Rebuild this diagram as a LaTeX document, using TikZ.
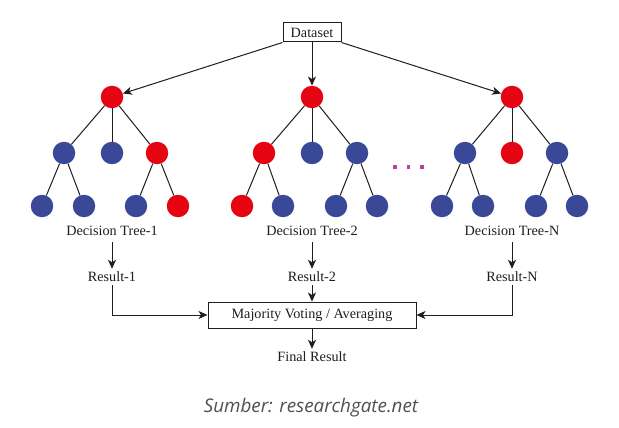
\documentclass[tikz,border=0pt]{standalone}
\usepackage{fontspec}
\setmainfont{Liberation Serif}
\newfontfamily\capfont{Open Sans}
\usetikzlibrary{arrows.meta}
\definecolor{tred}{RGB}{228,4,18}
\definecolor{tblue}{RGB}{58,72,152}
\definecolor{tdot}{RGB}{190,60,170}
\definecolor{tline}{RGB}{30,30,30}
\definecolor{capgray}{RGB}{80,80,80}
\tikzset{
  rn/.style={circle,fill=tred,inner sep=0pt,minimum size=22.5pt},
  bn/.style={circle,fill=tblue,inner sep=0pt,minimum size=22.5pt},
  edge/.style={draw=tline,line width=1pt},
  arr/.style={draw=tline,line width=1pt,-{Stealth[length=9pt,width=8pt,inset=2.5pt]}},
  lbl/.style={font=\fontsize{14.2}{16}\selectfont,text=tline,inner sep=0pt,minimum height=12pt},
  boxn/.style={draw=tline,line width=1pt,font=\fontsize{14.2}{16}\selectfont,text=tline},
  dotn/.style={fill=tdot,inner sep=0pt,minimum size=3.2pt}
}
\begin{document}
\begin{tikzpicture}[x=1pt,y=-1pt]
\useasboundingbox[fill=white] (0,0) rectangle (619,428);
% dataset
\node[boxn,minimum width=58pt,minimum height=19pt,inner sep=0pt] (ds) at (312,32.5) {Dataset};
% tree 1
\node[rn] (t1r) at (112,97) {};
\node[bn] (t1a) at (64,153) {};
\node[bn] (t1b) at (112,153) {};
\node[rn] (t1c) at (157,153) {};
\node[bn] (t1a1) at (42,206) {};
\node[bn] (t1a2) at (84,206) {};
\node[bn] (t1c1) at (136,206) {};
\node[rn] (t1c2) at (178,206) {};
% tree 2
\node[rn] (t2r) at (312,97) {};
\node[rn] (t2a) at (264,153) {};
\node[bn] (t2b) at (312,153) {};
\node[bn] (t2c) at (357,153) {};
\node[rn] (t2a1) at (242,206) {};
\node[bn] (t2a2) at (283,206) {};
\node[bn] (t2c1) at (336,206) {};
\node[bn] (t2c2) at (377,206) {};
% tree N
\node[rn] (t3r) at (512,97) {};
\node[bn] (t3a) at (465,153) {};
\node[rn] (t3b) at (512,153) {};
\node[bn] (t3c) at (557,153) {};
\node[bn] (t3a1) at (442,206) {};
\node[bn] (t3a2) at (483,206) {};
\node[bn] (t3c1) at (536,206) {};
\node[bn] (t3c2) at (577,206) {};
% edges
\foreach \t in {t1,t2,t3}{
  \draw[edge] (\t r) -- (\t a);
  \draw[edge] (\t r) -- (\t b);
  \draw[edge] (\t r) -- (\t c);
  \draw[edge] (\t a) -- (\t a1);
  \draw[edge] (\t a) -- (\t a2);
  \draw[edge] (\t c) -- (\t c1);
  \draw[edge] (\t c) -- (\t c2);
}
% dots
\node[dotn] (d1) at (395,167) {};
\node[dotn] (d2) at (408.5,167) {};
\node[dotn] (d3) at (422,167) {};
% dataset arrows
\draw[arr] (ds.south west) -- (t1r);
\draw[arr] (ds.south) -- (t2r);
\draw[arr] (ds.south east) -- (t3r);
% labels
\node[lbl] (l1) at (112,231) {Decision Tree-1};
\node[lbl] (l2) at (312,231) {Decision Tree-2};
\node[lbl] (l3) at (512,231) {Decision Tree-N};
\node[lbl] (r1) at (112,277) {Result-1};
\node[lbl] (r2) at (312,277) {Result-2};
\node[lbl] (r3) at (512,277) {Result-N};
\node[boxn,minimum width=208pt,minimum height=26pt,inner sep=0pt] (mv) at (312,315) {Majority Voting / Averaging};
\node[lbl] (fr) at (312,357) {Final Result};
\node[font=\capfont\itshape\fontsize{18.8}{20}\selectfont,text=capgray,inner sep=0pt] (src) at (311,408) {Sumber: researchgate.net};
% result arrows
\draw[arr,shorten <=5pt,shorten >=2pt] (l1) -- (r1);
\draw[arr,shorten <=5pt,shorten >=2pt] (l2) -- (r2);
\draw[arr,shorten <=5pt,shorten >=2pt] (l3) -- (r3);
\draw[arr,shorten <=2pt] (r1.south) |- (mv.west);
\draw[arr,shorten <=2pt] (r2.south) -- (mv.north);
\draw[arr,shorten <=2pt] (r3.south) |- (mv.east);
\draw[arr,shorten >=2pt] (mv.south) -- (fr.north);
\end{tikzpicture}
\end{document}
